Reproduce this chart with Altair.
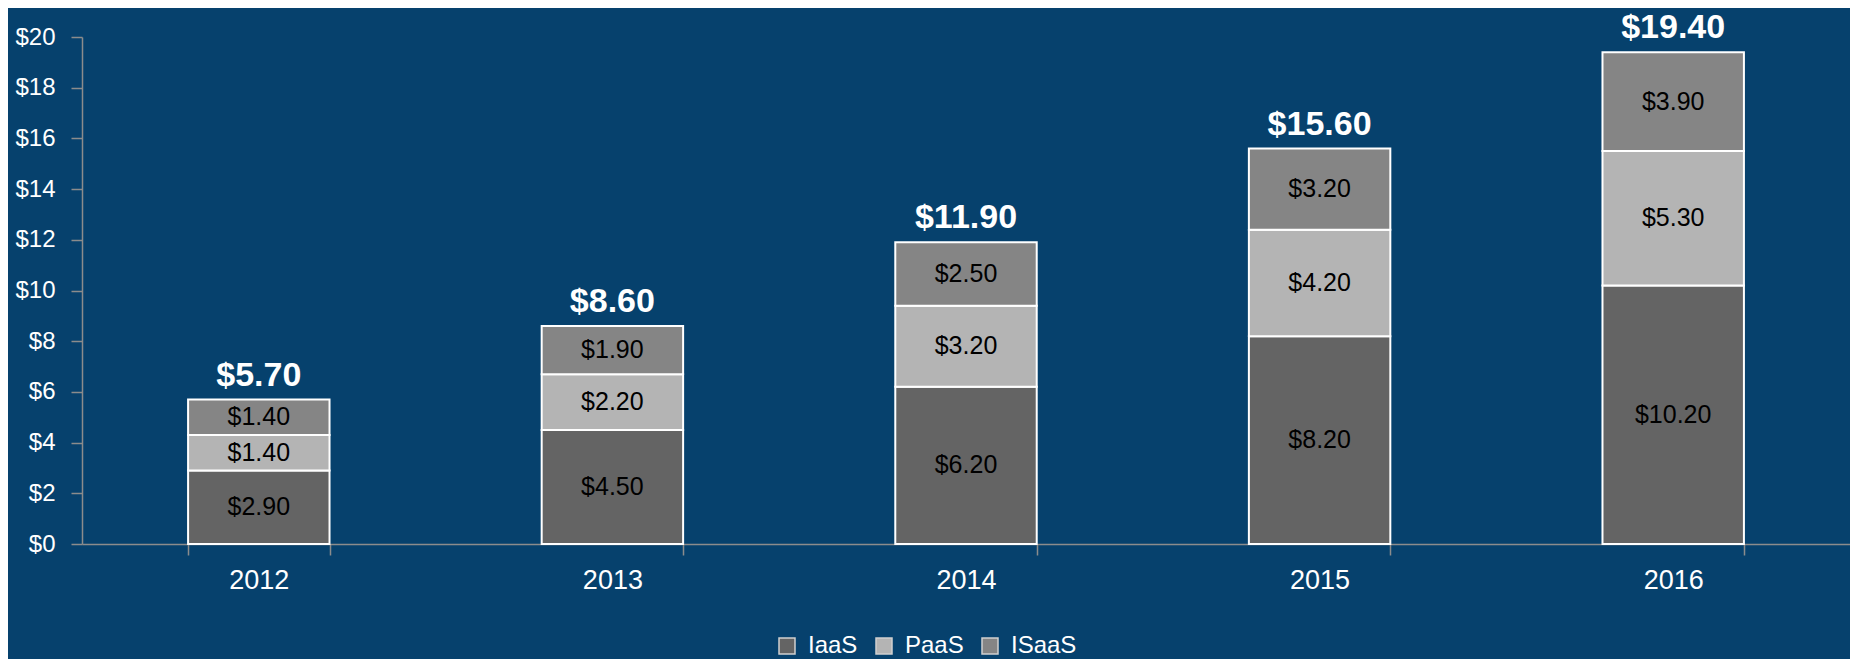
import altair as alt
import pandas as pd

FONT = "Liberation Sans"

years = ["2012", "2013", "2014", "2015", "2016"]
series = ["IaaS", "PaaS", "ISaaS"]
iaas = [2.9, 4.5, 6.2, 8.2, 10.2]
paas = [1.4, 2.2, 3.2, 4.2, 5.3]
isaas = [1.4, 1.9, 2.5, 3.2, 3.9]
totals = [5.7, 8.6, 11.9, 15.6, 19.4]
y_ticks = [0, 2, 4, 6, 8, 10, 12, 14, 16, 18, 20]
colors = ["#646464", "#b4b4b4", "#858585"]

rows = []
for i, yr in enumerate(years):
    for k, (name, vals) in enumerate(zip(series, [iaas, paas, isaas])):
        rows.append({"year": yr, "series": name, "order": k, "value": vals[i]})
df = pd.DataFrame(rows)
tot = pd.DataFrame({"year": years, "total": totals})

W, H = 1768, 507
AX = "#8c8c8c"

x_enc = alt.X(
    "year:N", title=None, sort=years,
    scale=alt.Scale(paddingInner=0.6, paddingOuter=0.3),
    axis=alt.Axis(labelAngle=0, tickBand="extent", tickSize=11, labelPadding=12,
                  labelFontSize=27, labelColor="#ffffff", labelFont=FONT,
                  domainColor=AX, tickColor=AX, domainWidth=1.5, tickWidth=1.5,
                  grid=False),
)
y_enc = alt.Y(
    "value:Q", stack="zero", title=None,
    scale=alt.Scale(domain=[0, 20], nice=False),
    axis=alt.Axis(values=y_ticks, labelExpr="'$' + datum.value", tickSize=11,
                  labelPadding=16, labelFontSize=24, labelColor="#ffffff",
                  labelFont=FONT, domainColor=AX, tickColor=AX,
                  domainWidth=1.5, tickWidth=1.5, grid=False),
)

bars = alt.Chart(df).mark_bar(stroke="white", strokeWidth=2).encode(
    x=x_enc,
    y=y_enc,
    color=alt.Color(
        "series:N",
        scale=alt.Scale(domain=series, range=colors),
        legend=alt.Legend(
            title=None, orient="none", legendX=693, legendY=597,
            direction="horizontal", symbolType="square", symbolSize=256,
            symbolStrokeColor="#d0d0d0", symbolStrokeWidth=1.5,
            labelFontSize=24, labelColor="#ffffff", labelFont=FONT,
            columnPadding=14, labelOffset=9, padding=0,
        ),
    ),
    order=alt.Order("order:Q", sort="ascending"),
)

seg = (
    alt.Chart(df)
    .transform_stack(stack="value", groupby=["year"], as_=["v0", "v1"],
                     sort=[alt.SortField("order", "ascending")])
    .transform_calculate(mid="(datum.v0 + datum.v1) / 2")
    .mark_text(fontSize=25, color="#000000", baseline="middle", font=FONT)
    .encode(x=alt.X("year:N", sort=years, title=None),
            y=alt.Y("mid:Q", title=None),
            text=alt.Text("value:Q", format="$.2f"))
)

tl = (
    alt.Chart(tot)
    .mark_text(fontSize=34, fontWeight="bold", color="#ffffff",
               baseline="alphabetic", dy=-14, font=FONT)
    .encode(x=alt.X("year:N", sort=years, title=None),
            y=alt.Y("total:Q", title=None),
            text=alt.Text("total:Q", format="$.2f"))
)

chart = (
    alt.layer(bars, seg, tl)
    .properties(
        width=W, height=H,
        padding={"left": 74, "top": 29, "right": 0, "bottom": 115},
        autosize=alt.AutoSizeParams(type="none"),
        background="#06416D",
    )
    .configure(font=FONT)
    .configure_view(stroke="transparent", strokeWidth=0)
    .configure_axis(grid=False)
)

chart.save("out.html", embed_options={"renderer": "svg", "actions": False})
